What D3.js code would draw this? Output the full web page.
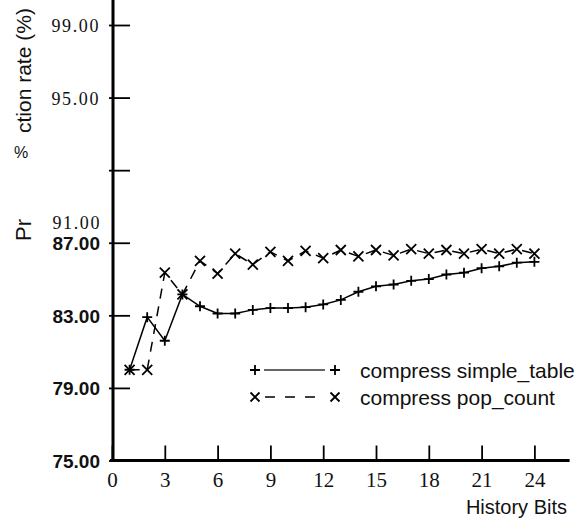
<!DOCTYPE html>
<html>
<head>
<meta charset="utf-8">
<script src="https://cdn.jsdelivr.net/npm/d3@7/dist/d3.min.js"></script>
<style>
  html, body { margin: 0; padding: 0; background: #fff; }
  svg { display: block; }
</style>
</head>
<body>
<svg id="chart" width="578" height="521"></svg>
<script>
// History length (bits) on the x axis
const historyBits = [1, 2, 3, 4, 5, 6, 7, 8, 9, 10, 11, 12, 13, 14, 15, 16, 17, 18, 19, 20, 21, 22, 23, 24];

// Prediction rate (%) per predictor
const simpleTable = [80.0, 82.9, 81.6, 84.15, 83.5, 83.1, 83.1, 83.3, 83.4, 83.4, 83.45, 83.6, 83.85, 84.3, 84.6, 84.7, 84.9, 85.0, 85.25, 85.35, 85.6, 85.7, 85.9, 85.95];
const popCount    = [80.0, 80.0, 85.35, 84.15, 86.0, 85.3, 86.4, 85.8, 86.5, 86.0, 86.55, 86.15, 86.6, 86.25, 86.6, 86.3, 86.65, 86.4, 86.6, 86.4, 86.65, 86.4, 86.65, 86.4];

const seriesNames = ["compress simple_table", "compress pop_count"];

// Axis ticks
const xTicks = [0, 3, 6, 9, 12, 15, 18, 21, 24];
const yTicks = [75, 79, 83, 87, 91, 95, 99];
const yTickLabels = ["75.00", "79.00", "83.00", "87.00", "", "95.00", "99.00"];
const yLabelSerif = [false, false, false, false, true, true, true];
const strayLabel = "91.00";

const svg = d3.select("#chart");
const SANS = "'Liberation Sans', Arial, sans-serif";
const SERIF = "'Liberation Serif', 'Times New Roman', serif";

const x = d3.scaleLinear().domain([0, 26]).range([112, 569.6]);
const y = d3.scaleLinear().domain([75, 99]).range([460.5, 25]);

const x0 = x(0), y0 = y(75);

// ---- X axis
const xAxis = svg.append("g").attr("transform", `translate(0,${y0})`)
  .call(d3.axisBottom(x).tickValues(xTicks).tickSizeInner(-15).tickSizeOuter(0).tickPadding(8));
xAxis.select(".domain").remove();
xAxis.selectAll(".tick line").attr("stroke", "#000").attr("stroke-width", 1.8);
xAxis.selectAll(".tick text")
  .attr("fill", "#111").attr("font-family", SERIF).attr("font-size", 21)
  .attr("dy", null).attr("y", 26);
svg.append("line").attr("x1", x0 - 2).attr("x2", x.range()[1]).attr("y1", y0).attr("y2", y0)
  .attr("stroke", "#000").attr("stroke-width", 3);

// ---- Y axis
const yAxis = svg.append("g").attr("transform", `translate(${x0 + 1},0)`)
  .call(d3.axisLeft(y).tickValues(yTicks).tickSizeInner(-17).tickSizeOuter(0)
    .tickFormat((d, i) => yTickLabels[i]));
yAxis.select(".domain").remove();
yAxis.selectAll(".tick line").attr("x1", -4).attr("stroke", "#000").attr("stroke-width", 1.8);
yAxis.selectAll(".tick text")
  .attr("x", -13).attr("dy", "0.36em").attr("fill", "#111")
  .attr("font-family", (d, i) => yLabelSerif[i] ? SERIF : SANS)
  .attr("font-weight", (d, i) => yLabelSerif[i] ? "normal" : "bold")
  .attr("font-size", (d, i) => yLabelSerif[i] ? 18 : 19)
  .attr("letter-spacing", (d, i) => yLabelSerif[i] ? "1.6px" : "0px");

// loose "91.00" label sitting just above 87.00
svg.append("text").attr("x", x0 - 11).attr("y", y(87) - 14)
  .attr("text-anchor", "end").attr("font-family", SERIF).attr("font-size", 18)
  .attr("letter-spacing", "1.6px").attr("fill", "#111").text(strayLabel);

svg.append("line").attr("x1", x0 + 1).attr("x2", x0 + 1).attr("y1", 0).attr("y2", y0 + 1.5)
  .attr("stroke", "#000").attr("stroke-width", 3);

// ---- Y axis title (fragmented)
svg.append("text").attr("transform", "translate(31,133) rotate(-90)")
  .attr("font-family", SANS).attr("font-size", 21).attr("fill", "#111").text("ction rate (%)");
svg.append("text").attr("transform", "translate(31,241) rotate(-90)")
  .attr("font-family", SANS).attr("font-size", 22).attr("fill", "#111").text("Pr");
svg.append("text").attr("x", 14).attr("y", 158)
  .attr("font-family", SANS).attr("font-size", 16).attr("fill", "#111").text("%");

// ---- X axis title
svg.append("text").attr("x", 567).attr("y", 514).attr("text-anchor", "end")
  .attr("font-family", SANS).attr("font-size", 20).attr("fill", "#111").text("History Bits");

// ---- Series
const line = d3.line().x((d, i) => x(historyBits[i])).y(d => y(d));

const plusPath = s => `M${-s},0H${s}M0,${-s}V${s}`;
const crossPath = s => `M${-s},${-s}L${s},${s}M${-s},${s}L${s},${-s}`;

svg.append("path").datum(simpleTable).attr("d", line)
  .attr("fill", "none").attr("stroke", "#000").attr("stroke-width", 1.5);
svg.append("path").datum(popCount).attr("d", line)
  .attr("fill", "none").attr("stroke", "#000").attr("stroke-width", 1.5)
  .attr("stroke-dasharray", "10,8");

svg.append("g").selectAll("path").data(simpleTable).join("path")
  .attr("transform", (d, i) => `translate(${x(historyBits[i])},${y(d)})`)
  .attr("d", plusPath(5)).attr("stroke", "#000").attr("stroke-width", 1.8).attr("fill", "none");
svg.append("g").selectAll("path").data(popCount).join("path")
  .attr("transform", (d, i) => `translate(${x(historyBits[i])},${y(d)})`)
  .attr("d", crossPath(5)).attr("stroke", "#000").attr("stroke-width", 1.8).attr("fill", "none");

// ---- Legend
const legend = svg.append("g").attr("transform", "translate(255,370)");
const rowGap = 27;
// simple_table row
legend.append("path").attr("d", plusPath(5)).attr("stroke", "#000").attr("stroke-width", 1.8);
legend.append("line").attr("x1", 9).attr("x2", 70).attr("y1", 0).attr("y2", 0)
  .attr("stroke", "#333").attr("stroke-width", 1.5);
legend.append("path").attr("transform", "translate(80,0)").attr("d", plusPath(5))
  .attr("stroke", "#000").attr("stroke-width", 1.8);
legend.append("text").attr("x", 105).attr("y", 7.5).attr("font-family", SANS)
  .attr("font-size", 21).attr("fill", "#111").text(seriesNames[0]);
// pop_count row
const row2 = legend.append("g").attr("transform", `translate(0,${rowGap})`);
row2.append("path").attr("d", crossPath(4.5)).attr("stroke", "#000").attr("stroke-width", 1.8);
row2.append("line").attr("x1", 10).attr("x2", 70).attr("y1", 0).attr("y2", 0)
  .attr("stroke", "#000").attr("stroke-width", 1.5).attr("stroke-dasharray", "10,10");
row2.append("path").attr("transform", "translate(80,0)").attr("d", crossPath(4.5))
  .attr("stroke", "#000").attr("stroke-width", 1.8);
row2.append("text").attr("x", 105).attr("y", 7.5).attr("font-family", SANS)
  .attr("font-size", 21).attr("fill", "#111").text(seriesNames[1]);
</script>
</body>
</html>
